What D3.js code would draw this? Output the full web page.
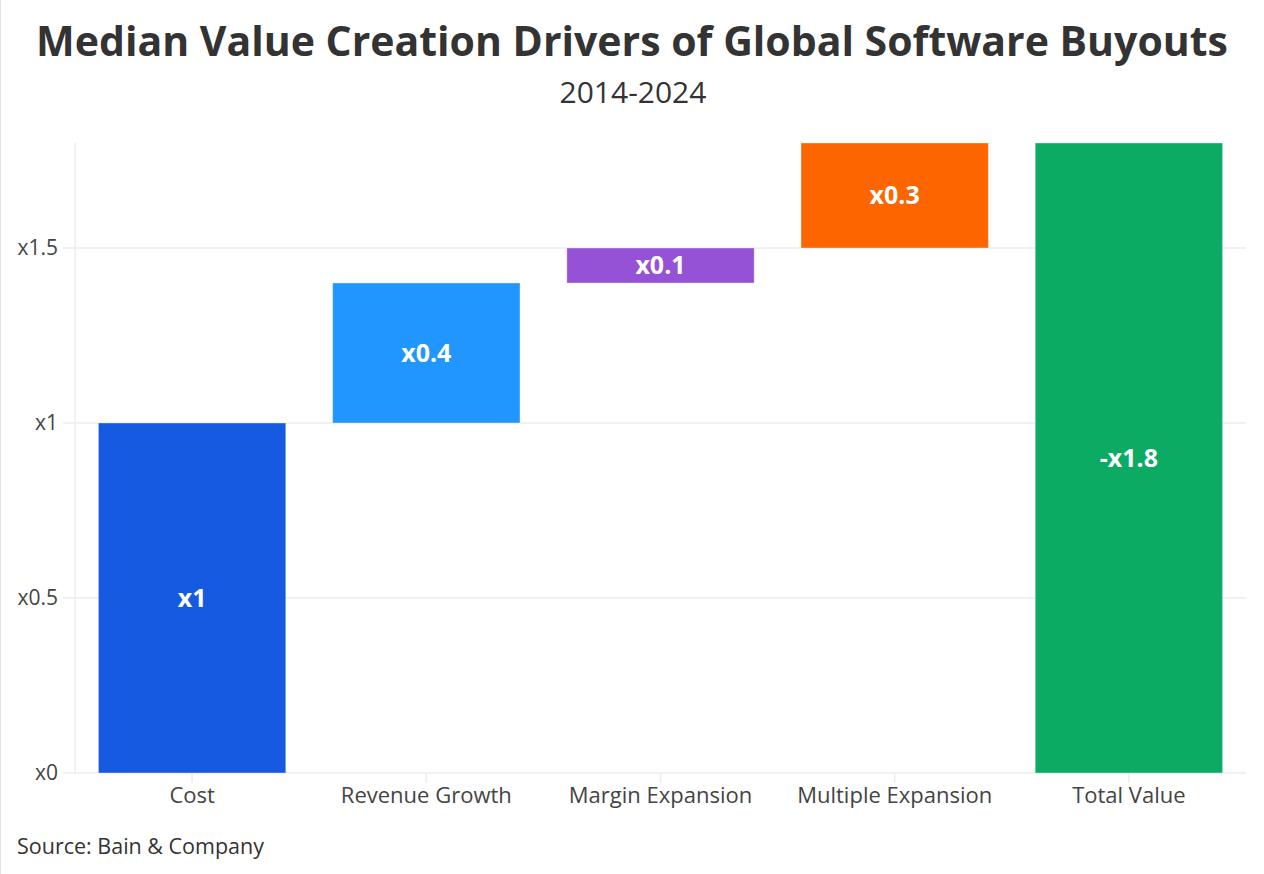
<!DOCTYPE html>
<html>
<head>
<meta charset="utf-8">
<script src="https://cdn.jsdelivr.net/npm/d3@7"></script>
<style>
  html, body { margin: 0; padding: 0; background: #fff; }
  body { font-family: "Open Sans", "Noto Sans", sans-serif; }
</style>
</head>
<body>
<svg id="chart"></svg>
<script>
(function() {

  // data
  const categories = ['Cost', 'Revenue Growth', 'Margin Expansion', 'Multiple Expansion', 'Total Value'];
  const values = [1, 0.4, 0.1, 0.3, 1.8];
  const isTotal = [false, false, false, false, true];
  const barLabels = ['x1', 'x0.4', 'x0.1', 'x0.3', '-x1.8'];
  const barColors = ['#155ae0', '#2196ff', '#9652d6', '#fc6500', '#0bab63'];
  const yTicks = [0, 0.5, 1, 1.5];
  const yTickLabels = ['x0', 'x0.5', 'x1', 'x1.5'];

  const title = 'Median Value Creation Drivers of Global Software Buyouts';
  const subtitle = '2014-2024';
  const source = 'Source: Bain & Company';

  const width = 1264;
  const height = 874;
  const margin = { left: 75, right: 18, top: 143, bottom: 101 };

  const svg = d3.select('#chart')
    .attr('width', width)
    .attr('height', height);

  // faint frame on the left edge
  svg.append('line')
    .attr('x1', 0.5).attr('x2', 0.5)
    .attr('y1', 0).attr('y2', height)
    .attr('stroke', '#e2e2e2')
    .attr('stroke-width', 1);

  // waterfall steps
  let running = 0;
  const steps = categories.map(function(c, i) {
    let start, end;
    if (isTotal[i]) {
      start = 0;
      end = values[i];
    } else {
      start = running;
      end = running + values[i];
      running = end;
    }
    return { name: c, start: start, end: end, label: barLabels[i], color: barColors[i] };
  });

  const x = d3.scaleBand()
    .domain(categories)
    .range([margin.left, width - margin.right])
    .paddingInner(0.2)
    .paddingOuter(0.1);

  const y = d3.scaleLinear()
    .domain([0, 1.8])
    .range([height - margin.bottom, margin.top]);

  // grid
  const grid = svg.append('g').attr('class', 'grid');
  grid.selectAll('line.h')
    .data(yTicks)
    .enter()
    .append('line')
    .attr('class', 'h')
    .attr('x1', margin.left - 12)
    .attr('x2', width - margin.right)
    .attr('y1', function(d) { return y(d); })
    .attr('y2', function(d) { return y(d); })
    .attr('stroke', '#ececec')
    .attr('stroke-width', 1.5);

  grid.append('line')
    .attr('x1', margin.left).attr('x2', margin.left)
    .attr('y1', y(1.8)).attr('y2', y(0))
    .attr('stroke', '#ececec')
    .attr('stroke-width', 1.5);

  // x ticks
  grid.selectAll('line.xt')
    .data(categories)
    .enter()
    .append('line')
    .attr('class', 'xt')
    .attr('x1', function(d) { return x(d) + x.bandwidth() / 2; })
    .attr('x2', function(d) { return x(d) + x.bandwidth() / 2; })
    .attr('y1', y(0))
    .attr('y2', y(0) + 10)
    .attr('stroke', '#ececec')
    .attr('stroke-width', 1.5);

  // y tick labels
  svg.append('g').selectAll('text')
    .data(yTicks)
    .enter()
    .append('text')
    .attr('x', margin.left - 17)
    .attr('y', function(d) { return y(d); })
    .attr('dy', '0.35em')
    .attr('text-anchor', 'end')
    .style('font-size', '21px')
    .style('fill', '#444')
    .text(function(d, i) { return yTickLabels[i]; });

  // x labels
  svg.append('g').selectAll('text')
    .data(categories)
    .enter()
    .append('text')
    .attr('x', function(d) { return x(d) + x.bandwidth() / 2; })
    .attr('y', y(0) + 30)
    .attr('text-anchor', 'middle')
    .style('font-size', '22px')
    .style('fill', '#444')
    .text(function(d) { return d; });

  // bars
  const bars = svg.append('g').selectAll('g.bar')
    .data(steps)
    .enter()
    .append('g')
    .attr('class', 'bar');

  bars.append('rect')
    .attr('x', function(d) { return x(d.name); })
    .attr('width', x.bandwidth())
    .attr('y', function(d) { return y(d.end); })
    .attr('height', function(d) { return y(d.start) - y(d.end); })
    .attr('fill', function(d) { return d.color; })
    .attr('stroke', 'rgba(255,255,255,0.35)')
    .attr('stroke-width', 1);

  bars.append('text')
    .attr('x', function(d) { return x(d.name) + x.bandwidth() / 2; })
    .attr('y', function(d) { return (y(d.start) + y(d.end)) / 2; })
    .attr('dy', '0.35em')
    .attr('text-anchor', 'middle')
    .style('font-size', '25px')
    .style('font-weight', 'bold')
    .style('fill', '#fff')
    .text(function(d) { return d.label; });

  // titles
  svg.append('text')
    .attr('x', width / 2)
    .attr('y', 56)
    .attr('text-anchor', 'middle')
    .style('font-size', '41px')
    .style('font-weight', 'bold')
    .style('fill', '#333')
    .text(title);

  svg.append('text')
    .attr('x', width / 2 + 1)
    .attr('y', 103)
    .attr('text-anchor', 'middle')
    .style('font-size', '30px')
    .style('fill', '#333')
    .text(subtitle);

  svg.append('text')
    .attr('x', 17)
    .attr('y', 854)
    .style('font-size', '21.5px')
    .style('fill', '#333')
    .text(source);

})();
</script>
</body>
</html>
